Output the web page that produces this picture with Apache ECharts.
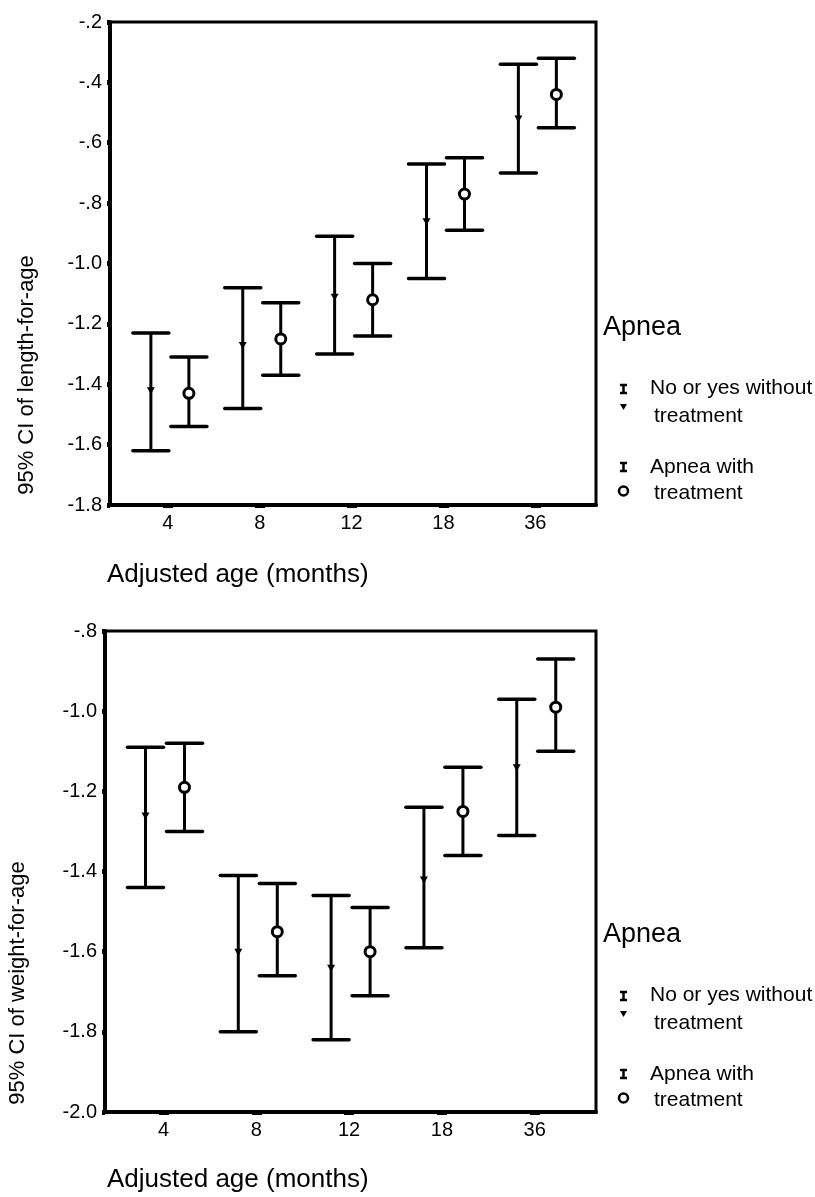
<!DOCTYPE html>
<html>
<head>
<meta charset="utf-8">
<title>Apnea growth z-scores</title>
<script src="https://cdn.jsdelivr.net/npm/echarts@6/dist/echarts.min.js"></script>
<style>
  html, body { margin: 0; padding: 0; background: #fff; }
  #chart { width: 815px; height: 1197px; }
</style>
</head>
<body>
<div id="chart"></div>
<script>
// adjusted age groups (months)
const ageGroups = ['4', '8', '12', '18', '36'];

// length-for-age, "No or yes without treatment"
const lenNoTreatMean = [-1.42, -1.27, -1.11, -0.86, -0.52];
const lenNoTreatLow  = [-1.62, -1.48, -1.30, -1.05, -0.70];
const lenNoTreatHigh = [-1.23, -1.08, -0.91, -0.67, -0.34];
// length-for-age, "Apnea with treatment"
const lenTreatMean = [-1.43, -1.25, -1.12, -0.77, -0.44];
const lenTreatLow  = [-1.54, -1.37, -1.24, -0.89, -0.55];
const lenTreatHigh = [-1.31, -1.13, -1.00, -0.65, -0.32];

// weight-for-age, "No or yes without treatment"
const wtNoTreatMean = [-1.26, -1.60, -1.64, -1.42, -1.14];
const wtNoTreatLow  = [-1.44, -1.80, -1.82, -1.59, -1.31];
const wtNoTreatHigh = [-1.09, -1.41, -1.46, -1.24, -0.97];
// weight-for-age, "Apnea with treatment"
const wtTreatMean = [-1.19, -1.55, -1.60, -1.25, -0.99];
const wtTreatLow  = [-1.30, -1.66, -1.71, -1.36, -1.10];
const wtTreatHigh = [-1.08, -1.43, -1.49, -1.14, -0.87];

const FONT = '"Liberation Sans", Arial, sans-serif';

const chart = echarts.init(document.getElementById('chart'));

function rows(mean, low, high) {
    return ageGroups.map((g, i) => [i + 1, mean[i], low[i], high[i]]);
}

// error bar with caps and a marker, shifted sideways inside the age group
function errorBar(shiftPx, marker) {
    return function (params, api) {
        const x = api.value(0);
        const mid = api.coord([x, api.value(1)]);
        const lo = api.coord([x, api.value(2)]);
        const hi = api.coord([x, api.value(3)]);
        const cx = mid[0] + shiftPx;
        const cap = 18;
        const stem = { stroke: '#000', lineWidth: 3 };
        const capStyle = { stroke: '#000', lineWidth: 3.5, lineCap: 'round' };
        const children = [
            { type: 'line', shape: { x1: cx, y1: hi[1], x2: cx, y2: lo[1] }, style: stem },
            { type: 'line', shape: { x1: cx - cap, y1: hi[1], x2: cx + cap, y2: hi[1] }, style: capStyle },
            { type: 'line', shape: { x1: cx - cap, y1: lo[1], x2: cx + cap, y2: lo[1] }, style: capStyle }
        ];
        if (marker === 'circle') {
            children.push({ type: 'circle', shape: { cx: cx, cy: mid[1], r: 5 },
                style: { fill: '#fff', stroke: '#000', lineWidth: 3 } });
        } else {
            children.push({ type: 'polygon',
                shape: { points: [[cx - 4, mid[1] - 3], [cx + 4, mid[1] - 3], [cx, mid[1] + 4]] },
                style: { fill: '#000' } });
        }
        return { type: 'group', children: children };
    };
}

function yLabel(v) {
    const r = Math.round(v * 10) / 10;
    if (Math.abs(r) < 1) return '-.' + Math.round(Math.abs(r) * 10);
    return r.toFixed(1);
}

function xAxisFor(gridIndex) {
    return {
        type: 'value',
        gridIndex: gridIndex,
        min: 0.37,
        max: 5.66,
        splitLine: { show: false },
        axisLine: { show: true, lineStyle: { color: '#000', width: 4 } },
        axisTick: { show: true, customValues: [1, 2, 3, 4, 5], length: 3, lineStyle: { color: '#000', width: 10 } },
        axisLabel: {
            customValues: [1, 2, 3, 4, 5],
            formatter: v => ageGroups[Math.round(v) - 1] || '',
            color: '#000', fontSize: 20, fontFamily: FONT, margin: 8
        }
    };
}

function yAxisFor(gridIndex, min, max) {
    return {
        type: 'value',
        gridIndex: gridIndex,
        min: min,
        max: max,
        interval: 0.2,
        splitLine: { show: false },
        axisLine: { show: true, lineStyle: { color: '#000', width: 4 } },
        axisTick: { show: true, length: 3, lineStyle: { color: '#000', width: 5 } },
        axisLabel: { formatter: yLabel, color: '#000', fontSize: 20, fontFamily: FONT, margin: 8 }
    };
}

// legend block to the right of a plot, positioned from the plot's bottom edge
function legendBlock(bottom) {
    const t = (text, x, y, size) => ({
        type: 'text', x: x, y: y,
        style: { text: text, fill: '#000', font: size + 'px ' + FONT, textAlign: 'left', textVerticalAlign: 'middle' }
    });
    const bar = (y) => ([
        { type: 'line', shape: { x1: 620, y1: y - 4, x2: 627, y2: y - 4 }, style: { stroke: '#000', lineWidth: 2.5 } },
        { type: 'line', shape: { x1: 623.5, y1: y - 4, x2: 623.5, y2: y + 4 }, style: { stroke: '#000', lineWidth: 2.5 } },
        { type: 'line', shape: { x1: 620, y1: y + 4, x2: 627, y2: y + 4 }, style: { stroke: '#000', lineWidth: 2.5 } }
    ]);
    return [
        t('Apnea', 603, bottom - 177, 27),
        ...bar(bottom - 116),
        { type: 'polygon', shape: { points: [[620, bottom - 101], [627, bottom - 101], [623.5, bottom - 95]] }, style: { fill: '#000' } },
        t('No or yes without', 650, bottom - 117, 21),
        t('treatment', 654, bottom - 89, 21),
        ...bar(bottom - 38),
        { type: 'circle', shape: { cx: 623.5, cy: bottom - 14, r: 4.5 }, style: { fill: '#fff', stroke: '#000', lineWidth: 2.5 } },
        t('Apnea with', 650, bottom - 38, 21),
        t('treatment', 654, bottom - 12, 21)
    ];
}

function axisTitles(yTitle, yx, yy, xTitleY) {
    return [
        { type: 'text', x: yx, y: yy, rotation: Math.PI / 2,
          style: { text: yTitle, fill: '#000', font: '22px ' + FONT, textAlign: 'center', textVerticalAlign: 'middle' } },
        { type: 'text', x: 107, y: xTitleY,
          style: { text: 'Adjusted age (months)', fill: '#000', font: '26px ' + FONT, textAlign: 'left', textVerticalAlign: 'middle' } }
    ];
}

const option = {
    backgroundColor: '#fff',
    animation: false,
    grid: [
        { left: 110, top: 22, width: 486, height: 483, show: true, borderColor: '#000', borderWidth: 3 },
        { left: 105, top: 631, width: 491, height: 481, show: true, borderColor: '#000', borderWidth: 3 }
    ],
    xAxis: [xAxisFor(0), xAxisFor(1)],
    yAxis: [yAxisFor(0, -1.8, -0.2), yAxisFor(1, -2.0, -0.8)],
    graphic: [
        ...axisTitles('95% CI of length-for-age', 27, 375, 575),
        ...axisTitles('95% CI of weight-for-age', 18, 983, 1180),
        ...legendBlock(505),
        ...legendBlock(1112)
    ],
    series: [
        { name: 'No or yes without treatment', type: 'custom', xAxisIndex: 0, yAxisIndex: 0,
          renderItem: errorBar(-17, 'triangle'), encode: { x: 0, y: [1, 2, 3] },
          data: rows(lenNoTreatMean, lenNoTreatLow, lenNoTreatHigh) },
        { name: 'Apnea with treatment', type: 'custom', xAxisIndex: 0, yAxisIndex: 0,
          renderItem: errorBar(21, 'circle'), encode: { x: 0, y: [1, 2, 3] },
          data: rows(lenTreatMean, lenTreatLow, lenTreatHigh) },
        { name: 'No or yes without treatment', type: 'custom', xAxisIndex: 1, yAxisIndex: 1,
          renderItem: errorBar(-18, 'triangle'), encode: { x: 0, y: [1, 2, 3] },
          data: rows(wtNoTreatMean, wtNoTreatLow, wtNoTreatHigh) },
        { name: 'Apnea with treatment', type: 'custom', xAxisIndex: 1, yAxisIndex: 1,
          renderItem: errorBar(21, 'circle'), encode: { x: 0, y: [1, 2, 3] },
          data: rows(wtTreatMean, wtTreatLow, wtTreatHigh) }
    ]
};

chart.setOption(option);
</script>
</body>
</html>
